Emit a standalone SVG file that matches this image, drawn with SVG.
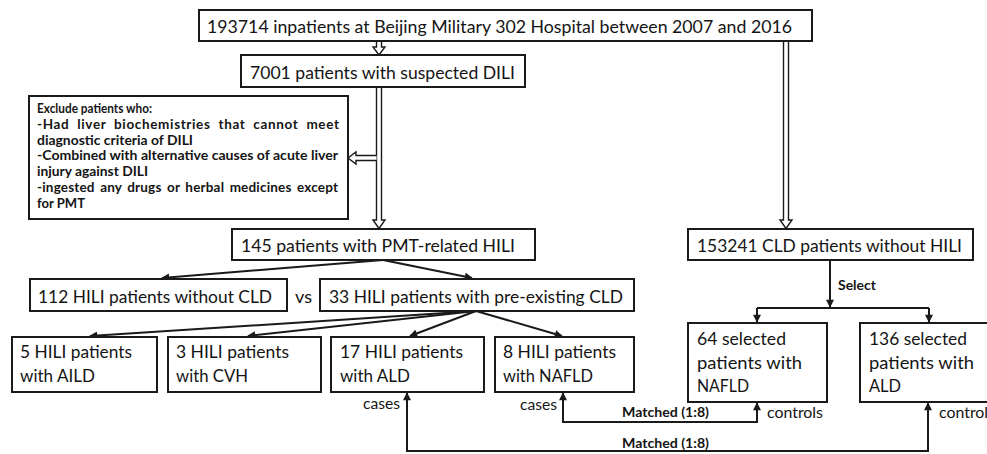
<svg xmlns="http://www.w3.org/2000/svg" width="987" height="454" viewBox="0 0 987 454">
<defs>
<style>
.box{fill:#fff;stroke:#1a1a1a;stroke-width:2}
.t{font-family:Lato,"Liberation Sans",sans-serif;font-size:18px;fill:#141414}
.s{font-family:Lato,"Liberation Sans",sans-serif;font-size:17.5px;fill:#141414}
.b{font-family:Lato,"Liberation Sans",sans-serif;font-size:13.5px;font-weight:bold;fill:#141414}
.l{font-family:Lato,"Liberation Sans",sans-serif;font-size:14.5px;fill:#141414}
.c{fill:none;stroke:#1a1a1a;stroke-width:2}
.d{fill:#fff;stroke:#1a1a1a;stroke-width:1.4}
</style>
<marker id="ah" viewBox="0 0 10 10" refX="9" refY="5" markerWidth="9" markerHeight="8" markerUnits="userSpaceOnUse" orient="auto-start-reverse">
<path d="M0,0 L10,5 L0,10 z" fill="#1a1a1a"/>
</marker>
</defs>

<g id="connectors">
<path class="d" d="M376.5,41 V47 H373 L379,55 L385,47 H381.5 V41"/>
<path class="d" d="M376.5,87 V220 H373 L379,228.5 L385,220 H381.5 V87"/>
<path class="d" d="M376.5,155.5 H356 V152 L348,158 L356,164 V160.5 H376.5"/>
<path class="d" d="M783.5,41 V220 H780 L786,228.5 L792,220 H788.5 V41"/>
<path class="c" d="M383,260 L162,278" marker-end="url(#ah)"/>
<path class="c" d="M383,260 L472,278" marker-end="url(#ah)"/>
<path class="c" d="M476,311 L90,336" marker-end="url(#ah)"/>
<path class="c" d="M476,311 L248,336" marker-end="url(#ah)"/>
<path class="c" d="M476,311 L410,336" marker-end="url(#ah)"/>
<path class="c" d="M476,311 L562,336" marker-end="url(#ah)"/>
<path class="c" d="M830,260 V307" marker-end="url(#ah)"/>
<path class="c" d="M757,308 H929"/>
<path class="c" d="M757,308 V322" marker-end="url(#ah)"/>
<path class="c" d="M929,308 V322" marker-end="url(#ah)"/>
<path class="c" d="M563,393 V422 H757 V403" marker-start="url(#ah)" marker-end="url(#ah)"/>
<path class="c" d="M407,393 V451 H928 V403" marker-start="url(#ah)" marker-end="url(#ah)"/>
<text class="b" x="838" y="290" textLength="38" lengthAdjust="spacingAndGlyphs">Select</text>
<text class="b" x="622" y="417" textLength="87" lengthAdjust="spacingAndGlyphs">Matched (1:8)</text>
<text class="b" x="622" y="448" textLength="87" lengthAdjust="spacingAndGlyphs">Matched (1:8)</text>
<text class="l" x="363" y="409" textLength="37" lengthAdjust="spacingAndGlyphs">cases</text>
<text class="l" x="520" y="410" textLength="37" lengthAdjust="spacingAndGlyphs">cases</text>
<text class="l" x="767" y="418" textLength="56" lengthAdjust="spacingAndGlyphs">controls</text>
<text class="l" x="939" y="418" textLength="56" lengthAdjust="spacingAndGlyphs">controls</text>
<text class="t" x="295" y="303" textLength="17" lengthAdjust="spacingAndGlyphs">vs</text>
</g>

<g id="n-total">
<rect class="box" x="199" y="10" width="613" height="31"/>
<text class="t" x="207" y="33" textLength="585" lengthAdjust="spacingAndGlyphs">193714 inpatients at Beijing Military 302 Hospital between 2007 and 2016</text>
</g>
<g id="n-suspected">
<rect class="box" x="241" y="55" width="284" height="32"/>
<text class="t" x="250" y="79" textLength="265" lengthAdjust="spacingAndGlyphs">7001 patients with suspected DILI</text>
</g>
<g id="n-exclude">
<rect class="box" x="29" y="96" width="319" height="123"/>
<text class="b" x="37" y="113" textLength="115" lengthAdjust="spacingAndGlyphs">Exclude patients who:</text>
<text class="b" x="37" y="129" textLength="302" lengthAdjust="spacing" word-spacing="4">-Had liver biochemistries that cannot meet</text>
<text class="b" x="37" y="145" textLength="156" lengthAdjust="spacingAndGlyphs">diagnostic criteria of DILI</text>
<text class="b" x="37" y="160" textLength="301" lengthAdjust="spacingAndGlyphs">-Combined with alternative causes of acute liver</text>
<text class="b" x="37" y="176" textLength="111" lengthAdjust="spacingAndGlyphs">injury against DILI</text>
<text class="b" x="37" y="192" textLength="301" lengthAdjust="spacing" word-spacing="2">-ingested any drugs or herbal medicines except</text>
<text class="b" x="37" y="208" textLength="48" lengthAdjust="spacingAndGlyphs">for PMT</text>
</g>
<g id="n-hili">
<rect class="box" x="232" y="229" width="303" height="31"/>
<text class="t" x="241" y="252" textLength="274" lengthAdjust="spacingAndGlyphs">145 patients with PMT-related HILI</text>
</g>
<g id="n-cld">
<rect class="box" x="688" y="229" width="285" height="31"/>
<text class="t" x="697" y="252" textLength="265" lengthAdjust="spacingAndGlyphs">153241 CLD patients without HILI</text>
</g>
<g id="n-nocld">
<rect class="box" x="30" y="279" width="257" height="32"/>
<text class="t" x="38" y="303" textLength="234" lengthAdjust="spacingAndGlyphs">112 HILI patients without CLD</text>
</g>
<g id="n-precld">
<rect class="box" x="320" y="279" width="314" height="32"/>
<text class="t" x="329" y="303" textLength="294" lengthAdjust="spacingAndGlyphs">33 HILI patients with pre-existing CLD</text>
</g>
<g id="n-aild">
<rect class="box" x="12" y="337" width="145" height="55"/>
<text class="s" x="20" y="358" textLength="112" lengthAdjust="spacingAndGlyphs">5 HILI patients</text>
<text class="s" x="20" y="382" textLength="75" lengthAdjust="spacingAndGlyphs">with AILD</text>
</g>
<g id="n-cvh">
<rect class="box" x="168" y="337" width="153" height="55"/>
<text class="s" x="176" y="358" textLength="113" lengthAdjust="spacingAndGlyphs">3 HILI patients</text>
<text class="s" x="176" y="382" textLength="72" lengthAdjust="spacingAndGlyphs">with CVH</text>
</g>
<g id="n-ald">
<rect class="box" x="331" y="337" width="153" height="55"/>
<text class="s" x="340" y="358" textLength="123" lengthAdjust="spacingAndGlyphs">17 HILI patients</text>
<text class="s" x="340" y="382" textLength="70" lengthAdjust="spacingAndGlyphs">with ALD</text>
</g>
<g id="n-nafld">
<rect class="box" x="495" y="337" width="139" height="55"/>
<text class="s" x="503" y="358" textLength="113" lengthAdjust="spacingAndGlyphs">8 HILI patients</text>
<text class="s" x="503" y="382" textLength="90" lengthAdjust="spacingAndGlyphs">with NAFLD</text>
</g>
<g id="n-sel-nafld">
<rect class="box" x="688" y="323" width="139" height="79"/>
<text class="s" x="697" y="345" textLength="89" lengthAdjust="spacingAndGlyphs">64 selected</text>
<text class="s" x="697" y="369" textLength="105" lengthAdjust="spacingAndGlyphs">patients with</text>
<text class="s" x="697" y="392" textLength="52" lengthAdjust="spacingAndGlyphs">NAFLD</text>
</g>
<g id="n-sel-ald">
<rect class="box" x="860" y="323" width="140" height="79"/>
<text class="s" x="869" y="345" textLength="98" lengthAdjust="spacingAndGlyphs">136 selected</text>
<text class="s" x="869" y="369" textLength="105" lengthAdjust="spacingAndGlyphs">patients with</text>
<text class="s" x="869" y="392" textLength="32" lengthAdjust="spacingAndGlyphs">ALD</text>
</g>
</svg>
